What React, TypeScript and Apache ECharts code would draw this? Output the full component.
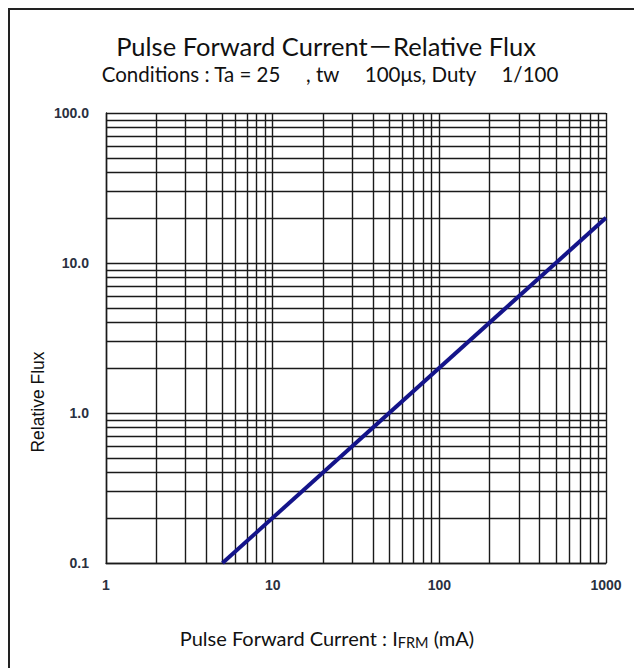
import React, { useEffect, useRef } from "react";
import * as echarts from "echarts";

const titleText = "Pulse Forward Current－Relative Flux";
const subtitleText = "Conditions : Ta = 25　 , tw　 100μs, Duty　 1/100";
const yAxisTitle = "Relative Flux";

const currentMA = [5, 1000];
const relativeFlux = [0.1, 20];

const xMinorGrid = [2, 3, 4, 5, 6, 7, 8, 9, 20, 30, 40, 50, 60, 70, 80, 90, 200, 300, 400, 500, 600, 700, 800, 900];
const yMinorGrid = [0.2, 0.3, 0.4, 0.5, 0.6, 0.7, 0.8, 0.9, 2, 3, 4, 5, 6, 7, 8, 9, 20, 30, 40, 50, 60, 70, 80, 90];

export default function App() {
  const ref = useRef<HTMLDivElement>(null);
  useEffect(() => {
    if (!ref.current) return;
    const chart = echarts.init(ref.current, null, { renderer: "svg" });
    const gridColor = "#1a1a1a";
    const tickFont = {
      fontFamily: '"Liberation Sans", sans-serif',
      fontWeight: "bold",
      fontSize: 14,
      color: "#2a3040",
    };
    const option: any = {
      animation: false,
      backgroundColor: "#ffffff",
      grid: { left: 106, right: 28, top: 113, bottom: 105, containLabel: false },
      xAxis: {
        type: "log",
        logBase: 10,
        min: 1,
        max: 1000,
        axisLine: { show: true, lineStyle: { color: gridColor, width: 1.4 } },
        axisTick: { show: false },
        splitLine: { show: true, lineStyle: { color: gridColor, width: 1.4 } },
        axisLabel: {
          margin: 15,
          ...tickFont,
          formatter: (v: number) => String(Math.round(v)),
        },
      },
      yAxis: {
        type: "log",
        logBase: 10,
        min: 0.1,
        max: 100,
        axisLine: { show: true, lineStyle: { color: gridColor, width: 1.4 } },
        axisTick: { show: false },
        splitLine: { show: true, lineStyle: { color: gridColor, width: 1.4 } },
        axisLabel: {
          margin: 17,
          ...tickFont,
          formatter: (v: number) => v.toFixed(1),
        },
      },
      series: [
        {
          type: "line",
          data: currentMA.map((x, i) => [x, relativeFlux[i]]),
          symbol: "none",
          z: 5,
          lineStyle: { color: "#14148a", width: 4 },
          markLine: {
            silent: true,
            symbol: "none",
            label: { show: false },
            lineStyle: { color: gridColor, width: 1.4, type: "solid" },
            data: [
              ...xMinorGrid.map((v) => ({ xAxis: v })),
              ...yMinorGrid.map((v) => ({ yAxis: v })),
            ],
            z: 1,
          },
        },
      ],
      graphic: [
        { type: "line", shape: { x1: 9, y1: 9, x2: 634, y2: 9 }, style: { stroke: "#222", lineWidth: 2 } },
        { type: "line", shape: { x1: 9, y1: 8, x2: 9, y2: 668 }, style: { stroke: "#222", lineWidth: 2 } },
        {
          type: "text",
          x: 326,
          y: 46,
          style: {
            text: titleText,
            font: '25.5px "Lato", "Noto Sans CJK JP", sans-serif',
            fill: "#111",
            align: "center",
            verticalAlign: "middle",
          },
        },
        {
          type: "text",
          x: 330,
          y: 74,
          style: {
            text: subtitleText,
            font: '20.5px "Lato", "Noto Sans CJK JP", sans-serif',
            fill: "#111",
            align: "center",
            verticalAlign: "middle",
          },
        },
        {
          type: "text",
          x: 38,
          y: 402,
          rotation: Math.PI / 2,
          style: {
            text: yAxisTitle,
            font: '17.5px "Liberation Sans", sans-serif',
            fill: "#111",
            align: "center",
            verticalAlign: "middle",
          },
        },
        {
          type: "text",
          x: 327,
          y: 638,
          style: {
            text: "{a|Pulse Forward Current : I}{s|FRM}{a| (mA)}",
            rich: {
              a: { font: '20px "Lato", sans-serif', fill: "#111", lineHeight: 24, verticalAlign: "middle" },
              s: { font: '14.5px "Lato", sans-serif', fill: "#111", lineHeight: 14, verticalAlign: "bottom" },
            },
            align: "center",
            verticalAlign: "middle",
          },
        },
      ],
    };
    chart.setOption(option);
    return () => chart.dispose();
  }, []);
  return (
    <div
      ref={ref}
      style={{ position: "fixed", left: 0, top: 0, width: 634, height: 668 }}
    />
  );
}
